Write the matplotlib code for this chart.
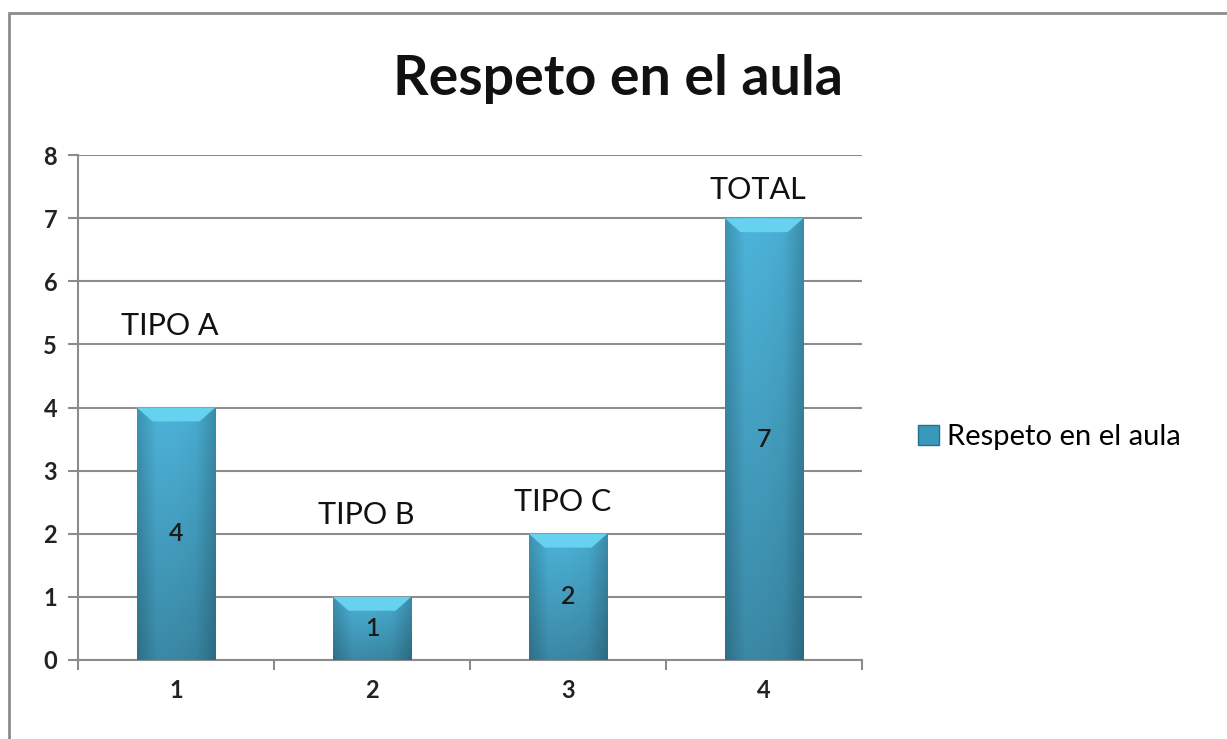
import matplotlib
matplotlib.use("Agg")
import matplotlib.pyplot as plt
import numpy as np
from matplotlib.patches import Polygon, Rectangle
from matplotlib.colors import LinearSegmentedColormap

categories = ['1', '2', '3', '4']
values = [4, 1, 2, 7]
names = ['TIPO A', 'TIPO B', 'TIPO C', 'TOTAL']
name_heights = [5.3, 2.3, 2.5, 7.45]  # where the category names sit
series_name = 'Respeto en el aula'

plt.rcParams['font.family'] = ['Lato', 'DejaVu Sans']

fig = plt.figure(figsize=(12.27, 7.39), dpi=100)
ax = fig.add_axes([0.0636, 0.107, 0.639, 0.683])

# outer chart frame
fig.patches.append(Rectangle((9 / 1227, -0.1), 1.2, (739 - 13) / 739 + 0.1,
                             transform=fig.transFigure, fill=False,
                             edgecolor='#8c8c8c', linewidth=2))

x = np.arange(len(categories))
width = 0.4
bars = ax.bar(x, values, width, color='#3fa3c6', zorder=2)

# shaded bar face: a bit darker at the edges and towards the bottom
cmap = LinearSegmentedColormap.from_list(
    'bar', ['#3d93b2', '#4db4da', '#4cb2d7', '#49acd0', '#3b8cab'])
h = np.linspace(0, 1, 64)[None, :]
v = np.linspace(0.76, 1.0, 64)[:, None]
for rect in bars:
    x0, w, hgt = rect.get_x(), rect.get_width(), rect.get_height()
    rgb = cmap(np.repeat(h, 64, axis=0))[:, :, :3] * v[:, :, None]
    im = ax.imshow(rgb, extent=(x0, x0 + w, 0, hgt), origin='lower',
                   aspect='auto', zorder=3)
    im.set_clip_path(rect)
    # bevelled top
    d = 0.22
    ax.add_patch(Polygon([(x0, hgt), (x0 + w, hgt), (x0 + w - w * 0.2, hgt - d),
                          (x0 + w * 0.2, hgt - d)], closed=True,
                         facecolor='#66d2ef', edgecolor='none', zorder=4))
    ax.text(x0 + w / 2, hgt / 2, '{}'.format(hgt), ha='center', va='center',
            fontsize=18, fontweight='semibold', color='#1a1a1a', zorder=5)

for xi, name, yy in zip(x, names, name_heights):
    ax.text(xi - 0.03, yy, name, ha='center', va='center', fontsize=22,
            color='#111111')

ax.set_xlim(-0.5, len(categories) - 0.5)
ax.set_ylim(0, 8)
ax.set_yticks(range(0, 9))
ax.set_xticks(x)
ax.set_xticklabels(categories)
ax.set_xticks(np.arange(-0.5, len(categories)), minor=True)
ax.tick_params(axis='x', which='major', length=0, pad=14, labelsize=17)
ax.tick_params(axis='x', which='minor', length=7, color='#8c8c8c', width=1.5)
ax.tick_params(axis='y', length=7, color='#8c8c8c', width=1.5, pad=8, labelsize=17)
for lab in ax.get_xticklabels() + ax.get_yticklabels():
    lab.set_fontweight('bold')
    lab.set_color('#222222')

ax.grid(axis='y', color='#8c8c8c', linewidth=1.5, zorder=0)
ax.set_axisbelow(True)
for s in ['top', 'right']:
    ax.spines[s].set_visible(False)
for s in ['left', 'bottom']:
    ax.spines[s].set_color('#8c8c8c')
    ax.spines[s].set_linewidth(1.5)

fig.text(0.504, 0.893, series_name, ha='center', va='center',
         fontsize=40, fontweight='bold', color='#111111')

leg = fig.legend([Rectangle((0, 0), 1, 1, facecolor='#3a98bb', edgecolor='#25708c')],
                 [series_name], loc='center left', bbox_to_anchor=(0.727, 0.408),
                 frameon=False, fontsize=21, handlelength=0.7, handleheight=0.7,
                 handletextpad=0.3)

fig.savefig('out.png', dpi=100)
